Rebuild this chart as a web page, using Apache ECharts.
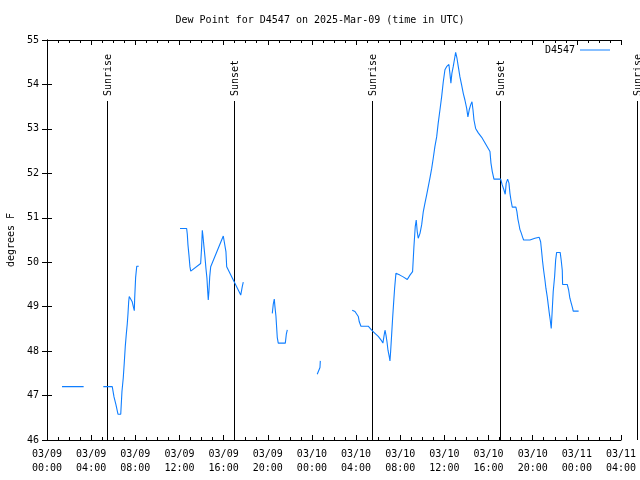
<!DOCTYPE html>
<html><head><meta charset="utf-8">
<script src="https://cdn.jsdelivr.net/npm/echarts@6/dist/echarts.min.js"></script>
<style>html,body{margin:0;padding:0;background:#fff}#c{width:640px;height:480px}</style>
</head><body><div id="c"></div>
<script>
const titleText = 'Dew Point for D4547 on 2025-Mar-09 (time in UTC)';
const seriesName = 'D4547';
const xTickLabels = ['03/09\n00:00','03/09\n04:00','03/09\n08:00','03/09\n12:00','03/09\n16:00','03/09\n20:00',
  '03/10\n00:00','03/10\n04:00','03/10\n08:00','03/10\n12:00','03/10\n16:00','03/10\n20:00','03/11\n00:00','03/11\n04:00'];
// hours since 2025-03-09 00:00 UTC (null value = gap in the record)
const hours = [
  1.36, 2.3, 3.32, 4.2,
  5.10, 5.91, 6.07, 6.25, 6.43, 6.68, 6.79, 6.91, 7.00, 7.09, 7.18, 7.27, 7.34, 7.40, 7.45, 7.61, 7.72, 7.82, 7.91, 7.94, 8.03, 8.13, 8.31, 10.0,
  12.05, 12.65, 12.71, 12.77, 12.86, 12.95, 13.02, 13.92, 14.01, 14.07, 14.13, 14.22, 14.31, 14.40, 14.49, 14.56, 14.61, 14.67, 14.74, 14.83,
  15.97, 16.15, 16.21, 16.28, 17.55, 17.60, 17.69, 17.78, 19.0,
  20.41, 20.50, 20.59, 20.65, 20.74, 20.80, 20.86, 20.95, 21.59, 21.68, 21.77, 23.0,
  24.48, 24.66, 24.73, 24.76, 26.0,
  27.65, 27.90, 28.05, 28.20, 28.29, 28.44, 29.10, 29.41, 29.71, 30.01, 30.32, 30.43, 30.53, 30.62, 30.71, 30.80, 30.89, 31.01, 31.07, 31.13,
  31.22, 31.31, 31.40, 31.49, 31.61, 31.97, 32.27, 32.64, 32.88, 33.12, 33.24, 33.36, 33.45, 33.54, 33.63, 33.79, 33.94, 34.09, 34.24, 34.39,
  34.54, 34.69, 34.85, 34.99, 35.14, 35.30, 35.44, 35.60, 35.75, 35.90, 36.05, 36.20, 36.29, 36.41, 36.50, 36.59, 36.68, 36.80, 36.93, 37.02,
  37.14, 37.26, 37.41, 37.56, 37.71, 37.86, 38.02, 38.13, 38.25, 38.38, 38.50, 38.59, 38.68, 38.83, 39.07, 39.38, 39.67, 39.88, 40.13, 40.22,
  40.34, 40.49, 41.10, 41.24, 41.39, 41.51, 41.60, 41.73, 41.85, 41.94, 42.03, 42.15, 42.48, 42.57, 42.66, 42.75, 42.84, 42.96, 43.09, 43.18,
  43.75, 43.90, 44.20, 44.59, 44.72, 44.81, 44.90, 44.99, 45.11, 45.20, 45.32, 45.41, 45.50, 45.59, 45.68, 45.77, 45.86, 45.99, 46.08, 46.17,
  46.49, 46.58, 46.68, 46.71, 47.13, 47.26, 47.37, 47.49, 47.62, 47.67, 48.16
];
const dewPoint = [
  47.2, 47.2, 47.2, null,
  47.2, 47.2, 46.97, 46.79, 46.58, 46.58, 47.09, 47.40, 47.74, 48.10, 48.37, 48.61, 48.85, 49.11, 49.23, 49.23, 49.11, 49.00, 48.91, 49.17, 49.66, 49.91, 49.91, null,
  50.76, 50.76, 50.63, 50.39, 50.16, 49.90, 49.80, 49.97, 50.35, 50.72, 50.59, 50.35, 50.12, 49.86, 49.64, 49.34, 49.15, 49.34, 49.67, 49.90,
  50.59, 50.59, 50.24, 49.90, 49.26, 49.22, 49.45, 49.55, null,
  48.85, 49.06, 49.17, 49.00, 48.79, 48.55, 48.31, 48.18, 48.18, 48.38, 48.48, null,
  47.48, 47.48, 47.63, 47.78, null,
  48.92, 48.89, 48.86, 48.78, 48.66, 48.56, 48.56, 48.47, 48.40, 48.33, 48.23, 48.18, 48.34, 48.47, 48.36, 48.21, 48.02, 47.87, 47.78, 47.99,
  48.36, 48.74, 49.08, 49.41, 49.75, 49.71, 49.67, 49.61, 49.71, 49.79, 50.35, 50.80, 50.95, 50.69, 50.54, 50.65, 50.84, 51.14, 51.33, 51.51,
  51.70, 51.89, 52.11, 52.34, 52.60, 52.82, 53.13, 53.43, 53.72, 54.06, 54.33, 54.40, 54.41, 54.45, 54.25, 54.03, 54.25, 54.40, 54.59, 54.72,
  54.59, 54.40, 54.17, 53.99, 53.80, 53.65, 53.46, 53.27, 53.43, 53.54, 53.61, 53.43, 53.20, 53.01, 52.91, 52.81, 52.69, 52.60, 52.49, 52.23,
  52.04, 51.87, 51.87, 51.74, 51.63, 51.53, 51.78, 51.87, 51.78, 51.55, 51.40, 51.24, 51.24, 51.14, 50.97, 50.86, 50.74, 50.66, 50.56, 50.50,
  50.50, 50.52, 50.54, 50.56, 50.46, 50.24, 50.01, 49.82, 49.60, 49.41, 49.22, 49.04, 48.86, 48.70, 48.51, 48.92, 49.34, 49.69, 50.05, 50.22,
  50.22, 50.05, 49.82, 49.50, 49.50, 49.37, 49.19, 49.08, 48.96, 48.90, 48.90
];
const sunHours = [5.45, 16.98, 29.45, 41.05, 53.45];
const sunLabels = ['Sunrise', 'Sunset', 'Sunrise', 'Sunset', 'Sunrise'];
const sunLineTop = 53.62;

const FONT = 'DejaVu Sans Mono';
const LINE_COLOR = '#0f7eff';
const chart = echarts.init(document.getElementById('c'), null, {renderer: 'canvas'});
const baseX = {
  type: 'value', min: 0, max: 52, interval: 4,
  axisLine: {show: true, lineStyle: {color: '#000', width: 1}},
  axisTick: {show: true, inside: true, length: 5, lineStyle: {color: '#000'}},
  minorTick: {show: true, splitNumber: 4, length: 3, lineStyle: {color: '#000'}},
  splitLine: {show: false}, minorSplitLine: {show: false}
};
const baseY = {
  type: 'value', min: 46, max: 55, interval: 1,
  axisLine: {show: true, lineStyle: {color: '#000', width: 1}},
  axisTick: {show: true, inside: true, length: 5, lineStyle: {color: '#000'}},
  splitLine: {show: false}
};
chart.setOption({
  animation: false,
  backgroundColor: '#fff',
  title: {text: titleText, left: 'center', top: 10,
    textStyle: {fontFamily: FONT, fontSize: 10, fontWeight: 'normal', color: '#000'}},
  legend: {data: [{name: seriesName, icon: 'rect', itemStyle: {color: LINE_COLOR}}],
    right: 25, top: 40, align: 'right', itemWidth: 30, itemHeight: 1,
    textStyle: {fontFamily: FONT, fontSize: 10, color: '#000'}},
  grid: {left: 47, right: 19, top: 40, bottom: 40, containLabel: false, outerBoundsMode: 'none'},
  xAxis: [
    Object.assign({}, baseX, {position: 'bottom',
      axisLabel: {show: true, margin: 7, fontFamily: FONT, fontSize: 10, lineHeight: 14, color: '#000',
        formatter: v => xTickLabels[Math.round(v / 4)]}}),
    Object.assign({}, baseX, {position: 'top', axisLabel: {show: false}})
  ],
  yAxis: [
    Object.assign({}, baseY, {position: 'left', name: 'degrees F', nameLocation: 'middle', nameRotate: 90, nameGap: 30,
      nameTextStyle: {fontFamily: FONT, fontSize: 10, color: '#000'},
      axisLabel: {show: true, margin: 8, fontFamily: FONT, fontSize: 10, color: '#000'}}),
    Object.assign({}, baseY, {position: 'right', axisLabel: {show: false}})
  ],
  series: [{
    name: seriesName, type: 'line', xAxisIndex: 0, yAxisIndex: 0,
    data: hours.map((h, i) => [h, dewPoint[i]]),
    symbol: 'none', connectNulls: false,
    lineStyle: {color: LINE_COLOR, width: 1.1}, itemStyle: {color: LINE_COLOR}
  }]
});
const g = [];
sunHours.forEach((h, i) => {
  const x = Math.round(chart.convertToPixel({xAxisIndex: 0}, h)) + 0.5;
  const yTop = Math.round(chart.convertToPixel({yAxisIndex: 0}, sunLineTop));
  const yBot = chart.convertToPixel({yAxisIndex: 0}, 46);
  g.push({type: 'line', silent: true, shape: {x1: x, y1: yTop, x2: x, y2: yBot},
    style: {stroke: '#000', lineWidth: 1}});
  g.push({type: 'text', silent: true, x: x + 1, y: yTop - 5, rotation: Math.PI / 2,
    style: {text: sunLabels[i], fontFamily: FONT, fontSize: 10, fill: '#000', align: 'left', verticalAlign: 'middle'}});
});
chart.setOption({graphic: g});
</script></body></html>
